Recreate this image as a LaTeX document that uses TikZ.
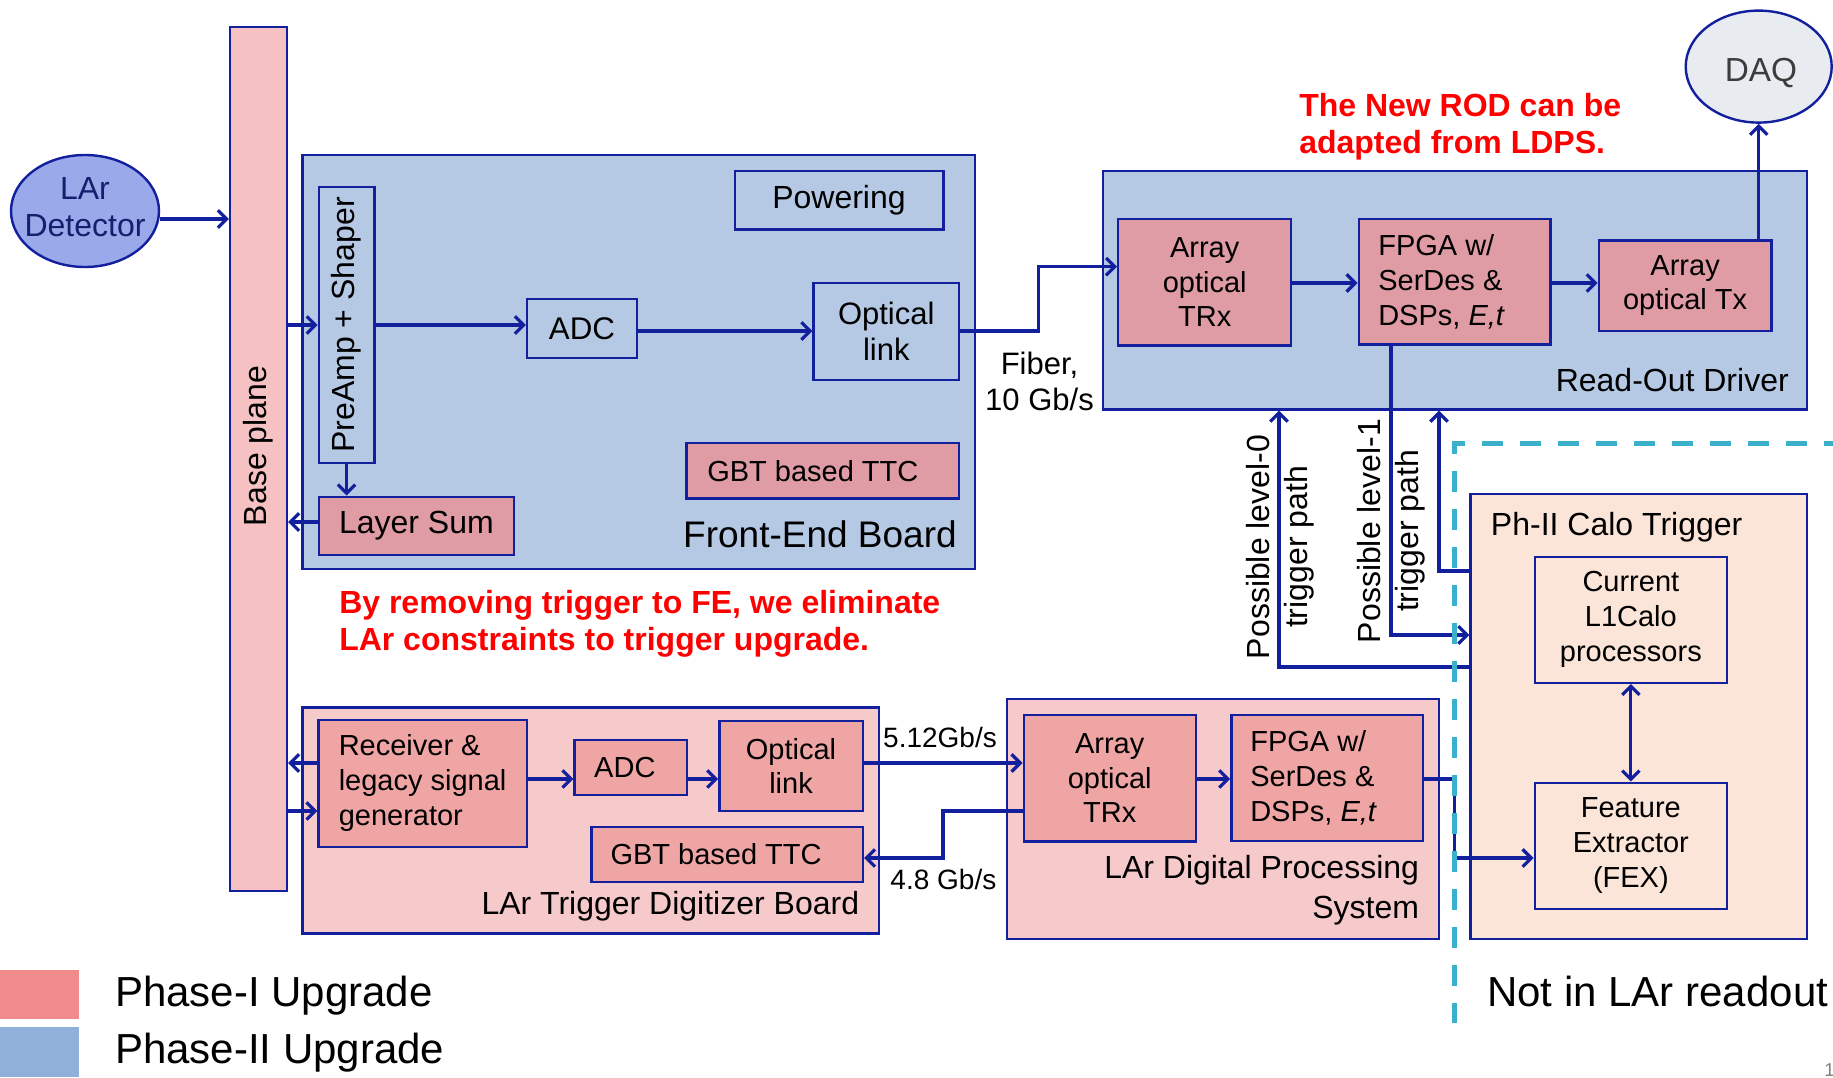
\documentclass[tikz,border=0pt]{standalone}
\usepackage{fontspec}
\setmainfont{Liberation Sans}
\usetikzlibrary{arrows.meta,fit,shapes.geometric,calc}
\definecolor{bdr}{RGB}{18,32,158}
\definecolor{feblue}{RGB}{181,201,229}
\definecolor{basepink}{RGB}{245,193,194}
\definecolor{rosebox}{RGB}{223,156,164}
\definecolor{trigpink}{RGB}{246,201,203}
\definecolor{salmonbox}{RGB}{240,165,165}
\definecolor{peach}{RGB}{251,229,217}
\definecolor{detfill}{RGB}{153,169,233}
\definecolor{dettext}{RGB}{22,30,110}
\definecolor{daqfill}{RGB}{232,236,240}
\definecolor{daqtext}{RGB}{60,60,60}
\definecolor{dashcyan}{RGB}{59,176,202}
\definecolor{legI}{RGB}{242,140,140}
\definecolor{legII}{RGB}{142,176,217}
\definecolor{alertred}{RGB}{255,0,0}
\begin{document}
\begin{tikzpicture}[x=0.75pt,y=-0.75pt,
  bx/.style={draw=bdr, line width=1.8pt, inner sep=0pt},
  arr/.style={draw=bdr, line width=2.4pt, -{Straight Barb[length=6.5pt,width=13pt]}},
  dblarr/.style={draw=bdr, line width=2.4pt, {Straight Barb[length=6.5pt,width=13pt]}-{Straight Barb[length=6.5pt,width=13pt]}},
  fA/.style={font=\fontsize{24}{27}\selectfont, align=center},
  fB/.style={font=\fontsize{21.75}{26}\selectfont, align=center},
  fC/.style={font=\fontsize{21}{25}\selectfont},
  fD/.style={font=\fontsize{27.75}{32}\selectfont},
  fE/.style={font=\fontsize{31.5}{36}\selectfont},
  redtxt/.style={text=alertred, font=\bfseries\fontsize{24}{28}\selectfont, inner sep=0pt, anchor=base west},
  ttl/.style={font=\fontsize{24}{27}\selectfont, inner sep=0pt}
]
\fill[white] (0,0) rectangle (1833,1077);
\useasboundingbox (0,0) rectangle (1833,1077);

% level coordinates
\coordinate (yDet) at (0,219);
\coordinate (yPre) at (0,325);
\coordinate (yOpt) at (0,331);
\coordinate (yTrx) at (0,266.7);
\coordinate (yRod) at (0,283);
\coordinate (yLs) at (0,522);
\coordinate (yA) at (0,763);
\coordinate (yB) at (0,811);
\coordinate (yC) at (0,779);
\coordinate (yD) at (0,858);
\coordinate (yL1) at (0,571);
\coordinate (yFp) at (0,635);
\coordinate (yL0) at (0,667);
\coordinate (xFib) at (1038.6,0);
\coordinate (xFp) at (1391,0);
\coordinate (xL1) at (1439,0);
\coordinate (xL0) at (1279,0);
\coordinate (xRet) at (943,0);
\coordinate (xFex) at (1454.4,0);

% Base plane and detector
\node[bx, fill=basepink, fit={(230,27) (287,891)}] (base) {};
\node[fA, rotate=90] (baset) at (258.5,446) {Base plane};
\node[ellipse, draw=bdr, line width=1.8pt, fill=detfill, minimum width=111pt, minimum height=84pt, inner sep=0pt] (lar) at (85,211) {};
\node[align=center, text=dettext, font=\fontsize{24}{28}\selectfont] (lart) at (85,207) {LAr\\Detector};

% Front-End Board
\node[bx, fill=feblue, fit={(302.3,155) (975.2,569)}] (feb) {};
\node[bx, fit={(734.7,171) (943.3,229.6)}] (pow) {};
\node[fA] (powt) at (pow.center) {Powering};
\node[bx, fit={(318.8,186.8) (374.3,463)}] (pre) {};
\node[fA, rotate=90] (pret) at (pre.center) {PreAmp + Shaper};
\node[bx, fit={(527,299) (636.9,357.8)}] (adc1) {};
\node[font=\fontsize{23.5}{27}\selectfont] (adc1t) at (adc1.center) {ADC};
\node[bx, fit={(813.5,283) (959,380)}] (opt1) {};
\node[align=center, font=\fontsize{23.25}{27}\selectfont] (opt1t) at (opt1.center) {Optical\\link};
\node[bx, fill=rosebox, fit={(686.6,443) (959,498.3)}] (gbt1) {};
\node[fB] (gbt1t) at ($(gbt1.center)+(-10,0)$) {GBT based TTC};
\node[bx, fill=rosebox, fit={(318.8,496.7) (514,555)}] (ls) {};
\node[fA] (lst) at (ls.center) {Layer Sum};
\node[fD, anchor=base east, inner sep=0pt] (febt) at (957,547) {Front-End Board};

% red notes
\node[redtxt] (r1a) at (339,613) {By removing trigger to FE, we eliminate};
\node[redtxt] (r1b) at (339,650) {LAr constraints to trigger upgrade.};
\node[redtxt] (r2a) at (1299,117) {The New ROD can be};
\node[redtxt] (r2b) at (1299,153) {adapted from LDPS.};

% Read-Out Driver
\node[bx, fill=feblue, fit={(1102.9,171) (1806.8,409.5)}] (rod) {};
\node[bx, fill=rosebox, fit={(1118.2,219) (1291.2,345.6)}] (trx1) {};
\node[fB] (trx1t) at (trx1.center) {Array\\optical\\TRx};
\node[bx, fill=rosebox, fit={(1358.7,219) (1550.4,344.4)}] (fpga1) {};
\node[fB, align=left, anchor=west, inner sep=0pt] (fpga1t) at (1378,281.7) {FPGA w/\\SerDes \&\\DSPs, \textit{E,t}};
\node[bx, fill=rosebox, fit={(1598.9,240.3) (1771.3,331)}] (tx) {};
\node[fB] (txt) at (tx.center) {Array\\optical Tx};
\node[ttl, anchor=base east] (rodt) at (1789,391.5) {Read-Out Driver};

% DAQ
\node[ellipse, draw=bdr, line width=1.8pt, fill=daqfill, minimum width=109.5pt, minimum height=84pt, inner sep=0pt] (daq) at (1758.7,66.6) {};
\node[text=daqtext, font=\fontsize{25}{28}\selectfont] (daqt) at (1761,73.5) {DAQ};

% fiber label
\node[align=center, font=\fontsize{23.25}{27}\selectfont] (fib) at (1039.5,381) {Fiber,\\10 Gb/s};

% LAr Trigger Digitizer Board
\node[bx, fill=trigpink, fit={(302.5,707.3) (878.9,933.3)}] (ltdb) {};
\node[bx, fill=salmonbox, fit={(318.6,720) (527,846.7)}] (recv) {};
\node[align=left, anchor=west, inner sep=0pt, font=\fontsize{21.75}{26.25}\selectfont] (recvt) at (338.5,783.3) {Receiver \&\\legacy signal\\generator};
\node[bx, fill=salmonbox, fit={(574.6,739.7) (687.1,795)}] (adc2) {};
\node[fB] (adc2t) at ($(adc2.center)+(-6,0)$) {ADC};
\node[bx, fill=salmonbox, fit={(719.3,720.7) (862.8,811)}] (opt2) {};
\node[fB] (opt2t) at (opt2.center) {Optical\\link};
\node[bx, fill=salmonbox, fit={(591.3,827) (862.8,881.7)}] (gbt2) {};
\node[fB] (gbt2t) at ($(gbt2.center)+(-11,0)$) {GBT based TTC};
\node[ttl, anchor=base east] (ltdbt) at (859.4,914.5) {LAr Trigger Digitizer Board};

% LAr Digital Processing System
\node[bx, fill=trigpink, fit={(1007,699) (1439,939)}] (ldps) {};
\node[bx, fill=salmonbox, fit={(1023.7,715) (1195.7,841.3)}] (trx2) {};
\node[fB] (trx2t) at (trx2.center) {Array\\optical\\TRx};
\node[bx, fill=salmonbox, fit={(1231.4,715) (1422.9,840.7)}] (fpga2) {};
\node[fB, align=left, anchor=west, inner sep=0pt] (fpga2t) at (1250,778) {FPGA w/\\SerDes \&\\DSPs, \textit{E,t}};
\node[ttl, anchor=base east] (ldpst1) at (1419.3,878) {LAr Digital Processing};
\node[ttl, anchor=base east] (ldpst2) at (1419.3,918) {System};

% Ph-II Calo Trigger
\node[bx, fill=peach, fit={(1470.5,493.7) (1806.7,939)}] (calo) {};
\node[ttl, anchor=base west] (calot) at (1490.7,535) {Ph-II Calo Trigger};
\node[bx, fill=peach, fit={(1534.7,556.8) (1727,682.7)}] (l1) {};
\node[align=center, font=\fontsize{21.75}{26.25}\selectfont] (l1t) at (l1.center) {Current\\L1Calo\\processors};
\node[bx, fill=peach, fit={(1534.7,782.7) (1727,909)}] (fex) {};
\node[align=center, font=\fontsize{21.75}{26.25}\selectfont] (fext) at (fex.center) {Feature\\Extractor\\(FEX)};

% trigger path labels
\node[rotate=90, align=center, font=\fontsize{24}{28.8}\selectfont] (lv0) at (1280,547) {Possible level-0\\trigger path};
\node[rotate=90, align=center, font=\fontsize{24}{28.8}\selectfont] (lv1) at (1391,531) {Possible level-1\\trigger path};

% rate labels
\node[fC] (r512) at (940,737) {5.12Gb/s};
\node[fC] (r48) at (943.4,879) {4.8 Gb/s};

% connectors
\draw[arr] (lar.east |- yDet) -- (base.west |- yDet);
\draw[arr] (base.east |- yPre) -- (pre.west |- yPre);
\draw[arr] (pre.east |- yPre) -- (adc1.west |- yPre);
\draw[arr] (adc1.east |- yOpt) -- (opt1.west |- yOpt);
\draw[arr] (pre.south) -- (ls.north -| pre.south);
\draw[arr] (ls.west |- yLs) -- (base.east |- yLs);
\draw[arr] (opt1.east |- yOpt) -| (xFib |- yTrx) -- (trx1.west |- yTrx);
\draw[arr] (trx1.east |- yRod) -- (fpga1.west |- yRod);
\draw[arr] (fpga1.east |- yRod) -- (tx.west |- yRod);
\draw[arr] (daq.south |- tx.north) -- (daq.south);
\draw[arr] (fpga1.south -| xFp) -- (xFp |- yFp) -- (calo.west |- yFp);
\draw[arr] (calo.west |- yL1) -- (xL1 |- yL1) -- (xL1 |- rod.south);
\draw[arr] (calo.west |- yL0) -- (xL0 |- yL0) -- (xL0 |- rod.south);

\draw[arr] (recv.west |- yA) -- (base.east |- yA);
\draw[arr] (base.east |- yB) -- (recv.west |- yB);
\draw[arr] (recv.east |- yC) -- (adc2.west |- yC);
\draw[arr] (adc2.east |- yC) -- (opt2.west |- yC);
\draw[arr] (opt2.east |- yA) -- (trx2.west |- yA);
\draw[arr] (trx2.west |- yB) -| (xRet |- yD) -- (gbt2.east |- yD);
\draw[arr] (trx2.east |- yC) -- (fpga2.west |- yC);
\draw[arr] (fpga2.east |- yC) -| (xFex |- yD) -- (fex.west |- yD);
\draw[dblarr] (l1.south) -- (fex.north);

% dashed boundary
\coordinate (dc) at (1454.3,443.3);
\draw[dashcyan, line width=4.2pt, dash pattern=on 15.75pt off 12.75pt] ($(dc)+(0,10.7)$) -- (dc) -- (1833,443.3);
\draw[dashcyan, line width=4.2pt, dash pattern=on 15.75pt off 12.75pt, dash phase=15.75pt] ($(dc)+(0,10.7)$) -- (1454.3,1023);

% legend
\node[fill=legI, inner sep=0pt, fit={(0,970) (79.2,1019.3)}] (leg1) {};
\node[fill=legII, inner sep=0pt, fit={(0,1027.3) (79.2,1077)}] (leg2) {};
\node[fE, anchor=base west, inner sep=0pt] (leg1t) at (114.8,1006.7) {Phase-I Upgrade};
\node[fE, anchor=base west, inner sep=0pt] (leg2t) at (114.8,1063.3) {Phase-II Upgrade};
\node[fE, anchor=base west, inner sep=0pt] (nilr) at (1487,1006.7) {Not in LAr readout};
\node[text=gray, font=\fontsize{14}{14}\selectfont, anchor=west, inner sep=0pt] (pg) at (1824,1070) {1};
\end{tikzpicture}
\end{document}
